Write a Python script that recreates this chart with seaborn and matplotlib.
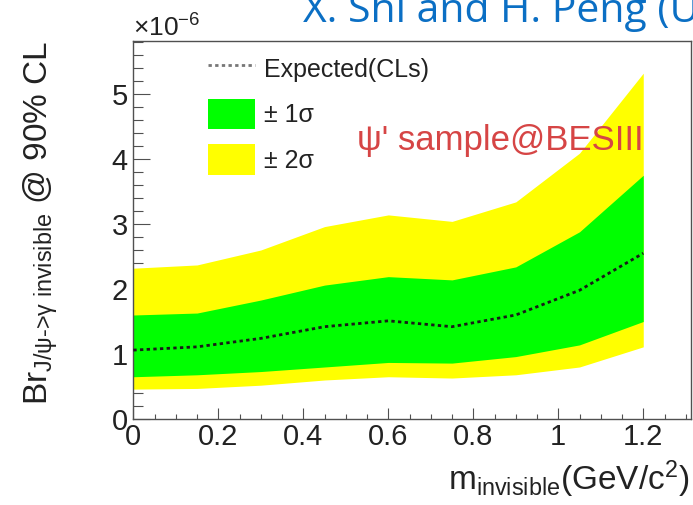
import matplotlib
matplotlib.use("Agg")
import matplotlib.pyplot as plt
from matplotlib.ticker import MultipleLocator, FuncFormatter
from matplotlib.lines import Line2D
from matplotlib.patches import Patch
import seaborn as sns
import pandas as pd

# invisible-mass scan points (GeV/c^2) and 90% CL upper limits (x 1e-6)
mass = [0.00, 0.15, 0.30, 0.45, 0.60, 0.75, 0.90, 1.05, 1.20]
expected = [1.06, 1.11, 1.24, 1.42, 1.51, 1.42, 1.60, 1.98, 2.55]
band1_lo = [0.65, 0.68, 0.73, 0.80, 0.87, 0.86, 0.96, 1.14, 1.50]
band1_hi = [1.60, 1.63, 1.83, 2.06, 2.19, 2.14, 2.34, 2.88, 3.75]
band2_lo = [0.46, 0.47, 0.52, 0.60, 0.65, 0.63, 0.68, 0.80, 1.11]
band2_hi = [2.32, 2.37, 2.60, 2.96, 3.14, 3.04, 3.34, 4.09, 5.32]

legend_labels = ["Expected(CLs)", "± 1σ", "± 2σ"]

df = pd.DataFrame({"mass": mass, "expected": expected,
                   "lo1": band1_lo, "hi1": band1_hi,
                   "lo2": band2_lo, "hi2": band2_hi})

sns.set_style("ticks")
plt.rcParams["font.family"] = ["Liberation Sans", "DejaVu Sans"]
plt.rcParams["mathtext.fontset"] = "custom"
plt.rcParams["mathtext.rm"] = "Liberation Sans"
plt.rcParams["mathtext.it"] = "Liberation Sans:italic"
plt.rcParams["mathtext.bf"] = "Liberation Sans:bold"

GREEN = "#00ff00"
YELLOW = "#ffff00"
INK = "#222222"
FRAME = "#505050"

fig = plt.figure(figsize=(6.93, 5.05), dpi=100)
ax = fig.add_axes([0.1924, 0.1703, 0.8048, 0.7485])

ax.fill_between(df["mass"], df["lo2"], df["hi2"], color=YELLOW, lw=0, zorder=1)
ax.fill_between(df["mass"], df["lo1"], df["hi1"], color=GREEN, lw=0, zorder=2)
sns.lineplot(data=df, x="mass", y="expected", ax=ax, color="#1a1a1a",
             linestyle=(0, (1.2, 1.2)), lw=2.0, zorder=3)

ax.set_xlim(0, 1.3125)
ax.set_ylim(0, 5.815)
ax.set_xlabel("")
ax.set_ylabel("")

ax.xaxis.set_major_locator(MultipleLocator(0.2))
ax.xaxis.set_minor_locator(MultipleLocator(0.05))
ax.yaxis.set_major_locator(MultipleLocator(1))
ax.yaxis.set_minor_locator(MultipleLocator(0.2))
ax.xaxis.set_major_formatter(FuncFormatter(lambda v, p: f"{v:g}"))
ax.yaxis.set_major_formatter(FuncFormatter(lambda v, p: f"{v:g}"))

for s in ax.spines.values():
    s.set_visible(True)
    s.set_color(FRAME)
    s.set_linewidth(1.0)

ax.tick_params(axis="x", which="major", direction="in", length=7.7, width=0.8,
               color=FRAME, labelsize=21, labelcolor=INK, pad=3)
ax.tick_params(axis="x", which="minor", direction="in", length=3.4, width=0.8,
               color=FRAME)
ax.tick_params(axis="y", which="major", direction="in", length=12, width=0.8,
               color=FRAME, labelsize=21, labelcolor=INK, pad=4)
ax.tick_params(axis="y", which="minor", direction="in", length=7, width=0.8,
               color=FRAME)

# exponent multiplier above the y axis
fig.text(133 / 693, 1 - 37 / 505, r"$\times$10$^{-6}$", fontsize=19,
         color=INK, ha="left", va="baseline")

# axis titles (ROOT style: aligned to the far end of each axis)
fig.text(689 / 693, 1 - 490 / 505,
         r"m$_{\mathrm{invisible}}$(GeV/c$^{2}$)", fontsize=24,
         color=INK, ha="right", va="baseline")
fig.text(21 / 693, 1 - 41 / 505,
         r"Br$_{\text{J/ψ->γ invisible}}$ @ 90% CL",
         fontsize=24, color=INK, rotation=90, ha="left", va="top")

# sample annotation
ax.text(0.526, 4.14, "ψ' sample@BESIII", fontsize=25, color="#d64545",
        ha="left", va="baseline", zorder=4)

handles = [Line2D([], [], color="#777777", linestyle=(0, (1.2, 1.2)), lw=2.0),
           Patch(facecolor=GREEN, edgecolor="none"),
           Patch(facecolor=YELLOW, edgecolor="none")]
fig.legend(handles, legend_labels, loc="upper left",
           bbox_to_anchor=(208 / 693, 1 - 53 / 505), frameon=False,
           fontsize=18, labelcolor=INK, borderpad=0, borderaxespad=0,
           handlelength=1.88, handleheight=1.5, handletextpad=0.36,
           labelspacing=0.6)

# slide header
fig.text(303 / 693, 1 - 22 / 505, "X. Shi and H. Peng (U", fontsize=29.5,
         color="#0b6fc4", family=["Open Sans", "DejaVu Sans"],
         ha="left", va="baseline")

fig.savefig("out.png", dpi=100)
